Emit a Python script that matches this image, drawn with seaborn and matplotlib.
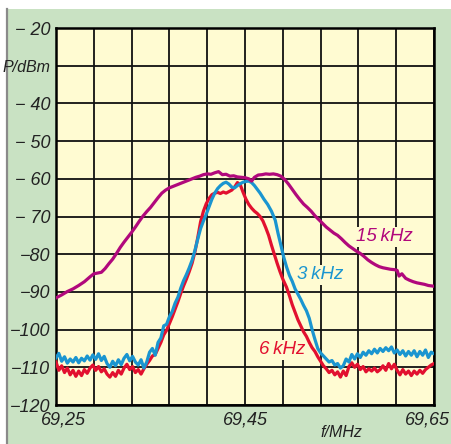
import matplotlib
matplotlib.use("Agg")
import matplotlib.pyplot as plt
import matplotlib.transforms as mtransforms
from matplotlib.patches import Rectangle
from matplotlib.lines import Line2D
import seaborn as sns
import pandas as pd

# ---------------- data ----------------
mag_x = [69.250, 69.256, 69.262, 69.268, 69.274, 69.280, 69.286, 69.290, 69.294, 69.298,
         69.302, 69.306, 69.310, 69.314, 69.318, 69.322, 69.326, 69.330, 69.334, 69.338,
         69.342, 69.346, 69.350, 69.354, 69.358, 69.362, 69.366, 69.370, 69.374, 69.378,
         69.382, 69.386, 69.390, 69.394, 69.398, 69.402, 69.406, 69.410, 69.414, 69.418,
         69.422, 69.426, 69.430, 69.434, 69.438, 69.442, 69.446, 69.450, 69.454, 69.457,
         69.460, 69.464, 69.468, 69.472, 69.476, 69.480, 69.484, 69.488, 69.492, 69.496,
         69.500, 69.504, 69.508, 69.512, 69.516, 69.520, 69.524, 69.528, 69.532, 69.536,
         69.540, 69.544, 69.548, 69.552, 69.556, 69.560, 69.564, 69.568, 69.572, 69.576,
         69.580, 69.584, 69.588, 69.592, 69.596, 69.600, 69.604, 69.608, 69.611, 69.613,
         69.616, 69.620, 69.624, 69.628, 69.632, 69.636, 69.640, 69.644, 69.650]
mag_y = [-91.6, -90.8, -89.9, -89.2, -88.3, -87.3, -86.0, -85.2, -85.0, -84.8,
         -83.8, -82.5, -81.3, -79.8, -78.2, -76.8, -75.5, -74.2, -72.8, -71.3,
         -69.9, -68.7, -67.6, -66.3, -65.0, -63.8, -63.0, -62.4, -62.0, -61.6,
         -61.2, -60.8, -60.4, -60.0, -59.6, -59.3, -58.9, -58.7, -58.8, -58.4,
         -58.1, -58.9, -58.8, -59.3, -59.2, -59.5, -59.6, -59.7, -60.0, -60.6,
         -59.6, -59.0, -58.9, -58.7, -58.8, -58.7, -58.9, -59.3, -60.2, -61.4,
         -62.8, -64.2, -65.5, -66.7, -67.6, -68.6, -69.8, -70.8, -71.8, -72.8,
         -73.6, -74.4, -75.0, -75.9, -76.9, -77.8, -78.5, -79.2, -79.8, -80.6,
         -81.5, -82.2, -82.8, -83.3, -83.6, -83.8, -84.0, -84.1, -84.3, -85.8,
         -85.2, -86.4, -86.9, -87.3, -87.6, -87.8, -88.0, -88.3, -88.5]

blue_x = [69.250, 69.253, 69.256, 69.259, 69.262, 69.265, 69.268, 69.271, 69.274, 69.277,
          69.280, 69.283, 69.286, 69.289, 69.292, 69.295, 69.298, 69.301, 69.304, 69.307,
          69.310, 69.313, 69.316, 69.319, 69.322, 69.325, 69.328, 69.331, 69.334, 69.337,
          69.340, 69.343, 69.346, 69.349, 69.352, 69.355, 69.358, 69.361, 69.364, 69.367,
          69.370, 69.373, 69.376, 69.379, 69.382, 69.385, 69.388, 69.391, 69.394, 69.397,
          69.400, 69.403, 69.406, 69.409, 69.412, 69.415, 69.418, 69.421, 69.424, 69.427,
          69.430, 69.433, 69.436, 69.439, 69.442, 69.445, 69.448, 69.451, 69.454, 69.457,
          69.460, 69.463, 69.466, 69.470, 69.474, 69.478, 69.482, 69.485, 69.488, 69.491,
          69.494, 69.497, 69.500, 69.503, 69.506, 69.509, 69.512, 69.515, 69.518, 69.521,
          69.524, 69.527, 69.530, 69.533, 69.536, 69.539, 69.542, 69.545, 69.548, 69.551,
          69.554, 69.557, 69.560, 69.563, 69.566, 69.569, 69.572, 69.575, 69.578, 69.581,
          69.584, 69.587, 69.590, 69.593, 69.596, 69.599, 69.602, 69.605, 69.608, 69.611,
          69.614, 69.617, 69.620, 69.623, 69.626, 69.629, 69.632, 69.635, 69.638, 69.641,
          69.644, 69.647, 69.650]
blue_y = [-107.5, -106.3, -108.4, -107.2, -108.9, -107.8, -108.6, -107.4, -108.8, -107.6,
          -108.3, -107.0, -108.1, -106.7, -107.9, -106.4, -108.2, -107.1, -109.0, -110.0,
          -108.4, -109.6, -108.0, -109.3, -107.6, -106.6, -108.3, -107.1, -108.6, -109.4,
          -108.0, -110.2, -108.6, -106.0, -105.0, -106.8, -103.4, -102.2, -99.0, -98.6,
          -96.6, -95.2, -93.0, -91.4, -89.0, -87.0, -85.4, -83.6, -81.6, -79.0,
          -76.0, -73.2, -71.2, -69.4, -67.4, -65.4, -63.8, -62.6, -61.8, -61.2,
          -60.9, -61.4, -62.2, -62.4, -61.8, -61.3, -60.9, -60.7, -60.6, -61.0,
          -61.8, -62.8, -63.8, -65.4, -66.8, -68.6, -71.0, -74.5, -77.6, -80.8,
          -83.4, -85.6, -87.2, -89.2, -90.6, -92.0, -93.6, -95.0, -97.0, -100.0,
          -102.6, -105.0, -106.2, -107.0, -107.8, -108.6, -108.2, -109.4, -109.0, -110.2,
          -109.6, -107.8, -108.6, -106.6, -107.8, -106.4, -107.4, -106.0, -106.8, -105.6,
          -106.4, -105.2, -106.2, -105.0, -105.8, -104.8, -105.6, -104.6, -106.2, -105.4,
          -106.6, -105.6, -107.0, -105.8, -106.8, -105.6, -107.2, -105.8, -106.8, -105.4,
          -107.4, -106.0, -106.4]

red_x = [69.250, 69.253, 69.256, 69.259, 69.262, 69.265, 69.268, 69.271, 69.274, 69.277,
         69.280, 69.283, 69.286, 69.289, 69.292, 69.295, 69.298, 69.301, 69.304, 69.307,
         69.310, 69.313, 69.316, 69.319, 69.322, 69.325, 69.328, 69.331, 69.334, 69.337,
         69.340, 69.343, 69.346, 69.349, 69.352, 69.355, 69.358, 69.361, 69.364, 69.367,
         69.370, 69.373, 69.376, 69.379, 69.382, 69.385, 69.388, 69.391, 69.394, 69.397,
         69.400, 69.403, 69.406, 69.409, 69.412, 69.415, 69.418, 69.421, 69.424, 69.427,
         69.430, 69.433, 69.436, 69.439, 69.442, 69.445, 69.448, 69.451, 69.454, 69.457,
         69.460, 69.463, 69.466, 69.469, 69.472, 69.475, 69.478, 69.481, 69.484, 69.487,
         69.490, 69.494, 69.497, 69.500, 69.503, 69.506, 69.509, 69.512, 69.515, 69.518,
         69.521, 69.524, 69.527, 69.530, 69.533, 69.536, 69.539, 69.542, 69.545, 69.548,
         69.551, 69.554, 69.557, 69.560, 69.563, 69.566, 69.569, 69.572, 69.575, 69.578,
         69.581, 69.584, 69.587, 69.590, 69.593, 69.596, 69.599, 69.602, 69.605, 69.608,
         69.611, 69.614, 69.617, 69.620, 69.623, 69.626, 69.629, 69.632, 69.635, 69.638,
         69.641, 69.644, 69.647, 69.650]
red_y = [-108.6, -110.8, -109.6, -111.4, -110.2, -112.0, -110.8, -112.4, -111.0, -112.2,
         -110.6, -111.6, -110.2, -109.4, -110.8, -109.8, -111.2, -110.4, -111.8, -112.6,
         -111.4, -112.4, -110.8, -111.8, -110.2, -109.2, -110.6, -109.8, -111.4, -110.6,
         -111.8, -110.4, -109.2, -108.2, -107.0, -106.6, -105.0, -103.4, -101.4, -100.2,
         -98.4, -96.6, -94.6, -92.6, -90.4, -88.4, -86.6, -84.6, -82.4, -79.4,
         -75.6, -71.4, -68.6, -66.6, -65.2, -64.2, -63.8, -63.6, -63.9, -63.5,
         -63.8, -63.4, -63.0, -62.2, -61.0, -61.6, -63.6, -65.4, -66.8, -67.8,
         -68.6, -69.2, -70.0, -71.2, -73.0, -75.0, -77.6, -80.0, -82.4, -84.6,
         -86.6, -88.8, -91.0, -93.4, -95.4, -97.4, -99.0, -100.6, -101.8, -103.4,
         -104.8, -105.8, -107.2, -108.4, -109.6, -110.4, -111.4, -110.8, -112.0, -111.2,
         -112.6, -111.0, -112.2, -109.8, -108.8, -110.0, -109.2, -110.6, -109.8, -111.2,
         -110.4, -111.0, -110.2, -111.2, -110.6, -109.6, -110.8, -109.0, -110.4, -109.2,
         -110.8, -112.0, -110.6, -111.8, -111.0, -112.2, -111.0, -111.8, -110.8, -111.6,
         -110.6, -110.0, -109.4, -109.0]

series_names = ["6 kHz", "3 kHz", "15 kHz"]
series_labels = ["6\u2009kHz", "3\u2009kHz", "15\u2009kHz"]
label_pos_x = [69.489, 69.530, 69.598]
label_pos_y = [-105.4, -85.5, -75.4]

x_tick_vals = [69.25 + 0.04 * i for i in range(11)]
x_tick_text = ["69,25", "", "", "", "", "69,45", "", "", "", "", "69,65"]
y_tick_vals = [-120, -110, -100, -90, -80, -70, -60, -50, -40, -30, -20]
y_tick_text = ["\u2212120", "\u2212110", "\u2212100", "\u221290", "\u221280",
               "\u2212 70", "\u2212 60", "\u2212 50", "\u2212 40", "P/dBm", "\u2212 20"]

# ---------------- styling ----------------
colors = {"6 kHz": "#e2102f", "3 kHz": "#1a95d0", "15 kHz": "#b1087c"}
fig_green = "#c9e2c3"
plot_bg = "#fffbd2"
FONT = ["Liberation Sans", "DejaVu Sans"]

df = pd.concat([
    pd.DataFrame({"f": red_x, "P": red_y, "s": "6 kHz"}),
    pd.DataFrame({"f": blue_x, "P": blue_y, "s": "3 kHz"}),
    pd.DataFrame({"f": mag_x, "P": mag_y, "s": "15 kHz"}),
], ignore_index=True)

W, H = 451, 444
fig = plt.figure(figsize=(W / 100, H / 100), dpi=100)
fig.patch.set_facecolor("white")
fig.add_artist(Rectangle((7 / W, 0), 1 - 7 / W, 1 - 9 / H, transform=fig.transFigure,
                         facecolor=fig_green, edgecolor="none", zorder=-10))
fig.add_artist(Line2D([7 / W, 7 / W], [0, 1 - 9 / H], transform=fig.transFigure,
                      color="#8a8a8a", lw=1.6, zorder=-9))

L, R, T, B = 56, 434, 28, 405
ax = fig.add_axes([L / W, (H - B) / H, (R - L) / W, (B - T) / H])
ax.set_facecolor(plot_bg)

sns.lineplot(data=df, x="f", y="P", hue="s", hue_order=series_names, palette=colors,
             estimator=None, sort=False, legend=False, lw=2.3, ax=ax, zorder=3)

ax.set_xlim(69.25, 69.65)
ax.set_ylim(-120, -20)
ax.set_xticks(x_tick_vals)
ax.set_xticklabels(x_tick_text, fontstyle="italic", fontsize=13, family=FONT, color="#222222")
ax.set_yticks(y_tick_vals)
ax.set_yticklabels(y_tick_text, fontstyle="italic", fontsize=13, family=FONT, color="#222222")
ax.tick_params(axis="both", length=0)
ax.tick_params(axis="y", pad=4)
ax.tick_params(axis="x", pad=5)
ax.grid(True, color="#111111", lw=1.3, zorder=1)
ax.set_axisbelow(True)
for sp in ax.spines.values():
    sp.set_color("black")
    sp.set_linewidth(1.8)

# nudge outer x labels inward, shrink P/dBm
xl = ax.get_xticklabels()
xl[0].set_transform(xl[0].get_transform() + mtransforms.ScaledTranslation(7 / 100, 0, fig.dpi_scale_trans))
xl[-1].set_transform(xl[-1].get_transform() + mtransforms.ScaledTranslation(-7 / 100, 0, fig.dpi_scale_trans))
for t in ax.get_yticklabels():
    if t.get_text() == "P/dBm":
        t.set_fontsize(11.5)

ax.set_xlabel("f/MHz", fontstyle="italic", fontsize=11.5, family=FONT, color="#222222")
ax.xaxis.set_label_coords(0.754, -0.052)
ax.xaxis.label.set_va("top")
ax.set_ylabel("")

for name, lab, lx, ly in zip(series_names, series_labels, label_pos_x, label_pos_y):
    ax.text(lx, ly, lab, color=colors[name], fontsize=13.5, fontstyle="italic", family=FONT,
            ha="center", va="center", zorder=4,
            bbox=dict(facecolor=plot_bg, edgecolor="none", pad=1.0))

fig.savefig("out.png", dpi=100)
